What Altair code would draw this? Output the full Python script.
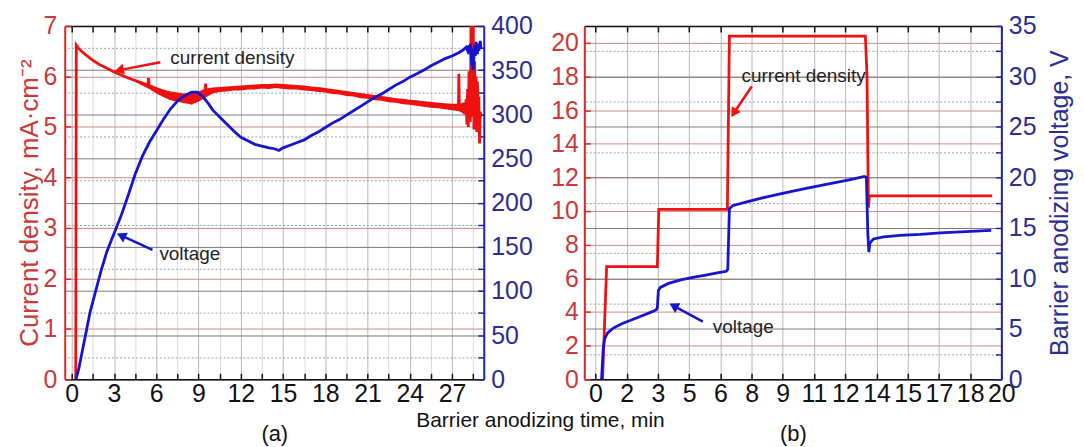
import altair as alt
import pandas as pd

FONT = "Liberation Sans"
RED_LINE = "#ee1111"
BLUE_LINE = "#1515d0"
RED_AX = "#d42a2a"
BLUE_AX = "#2020b0"
RED_TXT = "#c93a3a"
BLUE_TXT = "#2d2d8f"
BLACK = "#111111"
TICK_FS = 25

# ---------------- panel (a) data ----------------
a_j_time = [0.28, 0.32, 0.5, 0.8, 1.2, 1.6, 2.0, 2.5, 3.0, 3.5, 4.0, 4.5, 5.0, 5.4, 5.45, 5.5,
            6.0, 6.5, 7.0, 7.5, 8.0, 8.4, 8.5, 8.6, 9.0, 9.45, 9.5, 9.55, 10.0, 11.0, 12.0, 13.0,
            14.0, 15.0, 16.0, 17.0, 18.0, 19.0, 20.0, 21.0, 22.0, 23.0, 24.0, 25.0, 26.0, 27.0,
            27.45, 27.48, 27.52, 27.7, 27.8, 27.9, 28.0, 28.05, 28.1, 28.15, 28.2, 28.3, 28.35,
            28.42, 28.5, 28.55, 28.6, 28.65, 28.7, 28.75, 28.8, 28.85, 28.9, 28.95, 29.0, 29.05]
a_j_value = [0.0, 6.62, 6.55, 6.47, 6.38, 6.30, 6.23, 6.16, 6.09, 6.03, 5.97, 5.92, 5.86, 5.82, 5.97,
             5.80, 5.73, 5.67, 5.62, 5.59, 5.57, 5.56, 5.45, 5.57, 5.61, 5.66, 5.86, 5.67, 5.72,
             5.75, 5.77, 5.79, 5.80, 5.80, 5.78, 5.75, 5.72, 5.68, 5.64, 5.60, 5.56, 5.52, 5.49,
             5.45, 5.42, 5.39, 5.38, 6.05, 5.38, 5.35, 5.48, 5.25, 5.55, 5.05, 5.75, 5.00, 6.10,
             5.10, 7.40, 5.20, 7.40, 4.95, 6.30, 5.05, 6.00, 4.90, 5.90, 5.10, 5.60, 4.67, 5.30,
             5.20]

# noisy band of the current-density trace (lower / upper edge)
a_band_time = [4.5, 5.0, 5.5, 6.0, 6.5, 7.0, 7.5, 8.0, 8.5, 9.0, 9.5, 10.0, 10.5, 11.0, 11.5, 12.0,
               12.5, 13.0, 13.5, 14.0, 14.5, 15.0, 15.5, 16.0, 16.5, 17.0, 17.5, 18.0, 18.5, 19.0,
               19.5, 20.0, 20.5, 21.0, 21.5, 22.0, 22.5, 23.0, 23.5, 24.0, 24.5, 25.0, 25.5, 26.0,
               26.5, 27.0, 27.5, 27.9]
a_band_low = [5.90, 5.82, 5.75, 5.66, 5.59, 5.53, 5.50, 5.47, 5.45, 5.50, 5.58, 5.66, 5.69, 5.70,
              5.72, 5.72, 5.74, 5.74, 5.76, 5.75, 5.77, 5.75, 5.74, 5.74, 5.72, 5.71, 5.69, 5.68,
              5.65, 5.64, 5.61, 5.60, 5.57, 5.56, 5.53, 5.52, 5.49, 5.48, 5.45, 5.44, 5.42, 5.40,
              5.38, 5.37, 5.35, 5.33, 5.31, 5.25]
a_band_high = [5.94, 5.90, 5.85, 5.79, 5.74, 5.70, 5.68, 5.66, 5.67, 5.70, 5.76, 5.78, 5.79, 5.80,
               5.81, 5.82, 5.83, 5.84, 5.85, 5.85, 5.86, 5.85, 5.84, 5.83, 5.82, 5.80, 5.79, 5.77,
               5.75, 5.73, 5.71, 5.69, 5.67, 5.65, 5.63, 5.61, 5.59, 5.57, 5.56, 5.54, 5.53, 5.51,
               5.50, 5.48, 5.47, 5.46, 5.46, 5.48]

a_v_time = [0.3, 0.5, 0.7, 1.0, 1.3, 1.7, 2.1, 2.5, 3.0, 3.5, 4.0, 4.5, 5.0, 5.5, 6.0, 6.5, 7.0, 7.5,
            8.0, 8.5, 8.9, 9.3, 9.7, 10.0, 10.5, 11.0, 11.5, 12.0, 12.5, 13.0, 13.5, 14.0, 14.4, 14.7,
            15.0, 15.5, 16.0, 16.5, 17.0, 17.5, 18.0, 18.5, 19.0, 19.5, 20.0, 20.5, 21.0, 21.5, 22.0,
            22.5, 23.0, 23.5, 24.0, 24.5, 25.0, 25.5, 26.0, 26.5, 27.0, 27.5, 27.8, 28.0, 28.1, 28.2,
            28.25, 28.3, 28.4, 28.45, 28.5, 28.6, 28.65, 28.7, 28.8, 28.85, 28.9, 29.0, 29.05]
a_v_value = [0, 12, 28, 52, 76, 100, 124, 145, 165, 185, 208, 232, 252, 268, 281, 294, 306, 315,
             321, 325, 325, 320, 312, 305, 297, 289, 281, 274, 270, 266, 264, 262, 261, 259,
             262, 265, 268, 271, 276, 280, 285, 290, 294, 299, 304, 309, 314, 319, 323,
             328, 333, 337, 342, 346, 350, 355, 359, 363, 366, 370, 373, 376, 372, 378,
             368, 380, 355, 374, 350, 378, 366, 382, 368, 380, 372, 383, 374]

# ---------------- panel (b) data ----------------
b_j_time = [0.3, 0.35, 0.55, 3.05, 3.12, 6.5, 6.6, 13.3, 13.38, 13.45, 13.5, 19.55]
b_j_value = [0.0, 0.0, 6.7, 6.7, 10.1, 10.1, 20.4, 20.4, 18.0, 10.2, 10.9, 10.9]

b_v_time = [0.3, 0.38, 0.45, 0.6, 0.9, 1.3, 1.8, 2.3, 2.8, 3.0, 3.05, 3.1, 3.2, 3.6, 4.2, 4.8, 5.5,
            6.0, 6.45, 6.52, 6.6, 6.75, 7.5, 8.5, 9.5, 10.5, 11.5, 12.5, 13.25, 13.35, 13.42, 13.47,
            13.52, 13.7, 14.2, 15.0, 16.0, 17.0, 18.0, 19.0, 19.5]
b_v_value = [0.0, 3.0, 4.0, 4.6, 5.1, 5.5, 5.9, 6.3, 6.7, 6.9, 7.1, 8.8, 9.1, 9.5, 9.85, 10.1, 10.35,
             10.55, 10.7, 10.9, 16.9, 17.2, 17.6, 18.1, 18.55, 18.95, 19.35, 19.75, 20.1, 20.0, 14.5,
             12.6, 13.5, 13.9, 14.1, 14.25, 14.35, 14.5, 14.6, 14.7, 14.75]

# ---------------- ticks / labels ----------------
a_x_labels = ["0", "3", "6", "9", "12", "15", "18", "21", "24", "27"]
a_x_minor = [1.5, 4.5, 7.5, 10.5, 13.5, 16.5, 19.5, 22.5, 25.5, 28.5]
a_left_labels = ["0", "1", "2", "3", "4", "5", "6", "7"]
a_right_labels = ["0", "50", "100", "150", "200", "250", "300", "350", "400"]
a_right_minor = [25, 75, 125, 175, 225, 275, 325, 375]

b_x_labels = ["0", "2", "3", "5", "6", "8", "9", "11", "12", "14", "15", "17", "18", "20"]
b_x_positions = [20.0 * i / 13.0 for i in range(len(b_x_labels))]
b_left_labels = ["0", "2", "4", "6", "8", "10", "12", "14", "16", "18", "20"]
b_right_labels = ["0", "5", "10", "15", "20", "25", "30", "35"]
b_right_minor = [2.5, 7.5, 12.5, 17.5, 22.5, 27.5, 32.5]

# ---------------- annotations ----------------
a_note_j = pd.DataFrame({"x": [7.0], "y": [6.37], "text": ["current density"]})
a_arrow_j = pd.DataFrame({"x0": [6.29], "y0": [6.28], "x1": [3.47], "y1": [6.13]})
a_note_v = pd.DataFrame({"x": [6.22], "y": [142.0], "text": ["voltage"]})
a_arrow_v = pd.DataFrame({"x0": [5.73], "y0": [146.5], "x1": [3.61], "y1": [162.0]})

b_note_j = pd.DataFrame({"x": [7.2], "y": [18.05], "text": ["current density"]})
b_arrow_j = pd.DataFrame({"x0": [7.70], "y0": [17.4], "x1": [6.86], "y1": [15.9]})
b_note_v = pd.DataFrame({"x": [5.78], "y": [5.13], "text": ["voltage"]})
b_arrow_v = pd.DataFrame({"x0": [5.29], "y0": [5.72], "x1": [3.92], "y1": [7.2]})

INWARD = {"expr": "-6"}


def label_expr(positions, labels):
    expr = "''"
    for p, l in zip(positions, labels):
        expr = f"(abs(datum.value - {p:.6f}) < 0.0001) ? '{l}' : ({expr})"
    return expr


def major_test(positions):
    return " || ".join(f"abs(datum.value - {p:.6f}) < 0.0001" for p in positions)


def x_axis_bottom(major, labels, minor, title):
    return alt.Axis(
        orient="bottom", values=sorted(list(major) + list(minor)),
        labelExpr=label_expr(major, labels), labelFlush=False, labelOverlap=False,
        labelFont=FONT, labelFontSize=TICK_FS, labelColor=BLACK, labelPadding=8,
        title=title, titleFont=FONT, titleFontSize=22, titleFontWeight="normal",
        titleColor=BLACK, titlePadding=18,
        domainColor=BLACK, domainWidth=1.5, tickColor=BLACK, tickWidth=1.5, tickSize=INWARD,
        grid=True, gridWidth=1,
        gridColor={"condition": {"test": major_test(major), "value": "#b8b8b8"}, "value": "#dcdcdc"},
    )


def x_axis_top(values):
    return alt.Axis(
        orient="top", values=list(values), labels=False, title=None, grid=False,
        domainColor=BLACK, domainWidth=1.5, tickColor=BLACK, tickWidth=1.5, tickSize=INWARD,
    )


def y_axis_left(labels, title, pad):
    vals = [float(v) for v in labels]
    ax = dict(
        orient="left", values=vals, labelFlush=False, labelOverlap=False,
        labelFont=FONT, labelFontSize=TICK_FS, labelColor=RED_TXT, labelPadding=pad,
        domainColor=RED_AX, domainWidth=2, tickColor=RED_AX, tickWidth=1.5, tickSize=INWARD,
        grid=True, gridColor="#cf8a8a", gridWidth=1,
    )
    if title:
        ax.update(title=title, titleFont=FONT, titleFontSize=26, titleFontWeight="normal",
                  titleColor=RED_TXT, titlePadding=0)
    else:
        ax.update(title=None)
    return alt.Axis(**ax)


def y_axis_right(labels, minor, title, pad):
    major = [float(v) for v in labels]
    ax = dict(
        orient="right", values=sorted(major + list(minor)),
        labelExpr=label_expr(major, labels), labelFlush=False, labelOverlap=False,
        labelFont=FONT, labelFontSize=TICK_FS, labelColor=BLUE_TXT, labelPadding=pad,
        domainColor=BLUE_AX, domainWidth=2, tickColor=BLUE_AX, tickWidth=1.5, tickSize=INWARD,
        grid=True, gridWidth=1,
        gridColor={"condition": {"test": major_test(major), "value": "#7a7a7a"}, "value": "#a0a0a0"},
        gridDash={"condition": {"test": major_test(major), "value": []}, "value": [2, 2]},
    )
    if title:
        ax.update(title=title, titleFont=FONT, titleFontSize=25, titleFontWeight="normal",
                  titleColor=BLUE_TXT, titlePadding=12, titleAngle=270, titleBaseline="top")
    else:
        ax.update(title=None)
    return alt.Axis(**ax)


def side(df_line, line_color, arrow_df, note_df, xs, xa, ys, ya, head_angle, extra=None, band=None):
    def X(f):
        return alt.X(f, type="quantitative", scale=xs, axis=xa)

    def Y(f):
        return alt.Y(f, type="quantitative", scale=ys, axis=ya)

    layers = []
    if band is not None:
        layers.append(alt.Chart(band).mark_area(color=line_color, opacity=1, clip=True).encode(
            x=X("t"), y=Y("lo"), y2="hi:Q"))
    layers.append(alt.Chart(df_line).mark_line(color=line_color, strokeWidth=2.8, clip=True).encode(
        x=X("t"), y=Y("v")))
    layers.append(alt.Chart(arrow_df).mark_rule(color=line_color, strokeWidth=2.5).encode(
        x=X("x0"), y=Y("y0"), x2="x1:Q", y2="y1:Q"))
    layers.append(alt.Chart(arrow_df).mark_point(shape="triangle", filled=True, size=120, opacity=1,
                                                 color=line_color, angle=head_angle).encode(
        x=X("x1"), y=Y("y1")))
    layers.append(alt.Chart(note_df).mark_text(align="left", baseline="middle", font=FONT,
                                               fontSize=19, color="#222222").encode(
        x=X("x"), y=Y("y"), text="text:N"))
    if extra is not None:
        layers.append(extra)
    return alt.layer(*layers)


H = 355

# ---------- panel (a) ----------
xs_a = alt.Scale(domain=[-0.5, 29.25], nice=False, zero=False)
a_x_major = [float(v) for v in a_x_labels]
xb_a = x_axis_bottom(a_x_major, a_x_labels, a_x_minor, "(a)")
xt_a = x_axis_top(sorted(a_x_major + a_x_minor))
ysl_a = alt.Scale(domain=[0, 7], nice=False, zero=False)
ysr_a = alt.Scale(domain=[0, 400], nice=False, zero=False)

center_title = alt.Chart(pd.DataFrame({"label": ["Barrier anodizing time, min"]})).mark_text(
    font=FONT, fontSize=21, color=BLACK, align="center", baseline="middle").encode(
    x=alt.value(478), y=alt.value(397), text="label:N")

band_a = pd.DataFrame({"t": a_band_time, "lo": a_band_low, "hi": a_band_high})

left_a = side(pd.DataFrame({"t": a_j_time, "v": a_j_value}), RED_LINE, a_arrow_j, a_note_j,
              xs_a, xb_a, ysl_a, y_axis_left(a_left_labels, "Current density, mA·cm⁻²", 14),
              258, extra=center_title, band=band_a)
right_a = side(pd.DataFrame({"t": a_v_time, "v": a_v_value}), BLUE_LINE, a_arrow_v, a_note_v,
               xs_a, xt_a, ysr_a, y_axis_right(a_right_labels, a_right_minor, None, 13), 296)
panel_a = alt.layer(left_a, right_a).resolve_scale(y="independent").resolve_axis(
    x="independent", y="independent").properties(width=421, height=H)

# ---------- panel (b) ----------
xs_b = alt.Scale(domain=[-0.55, 20], nice=False, zero=False)
xb_b = x_axis_bottom(b_x_positions, b_x_labels, [], "(b)")
xt_b = x_axis_top(b_x_positions)
ysl_b = alt.Scale(domain=[0, 21], nice=False, zero=False)
ysr_b = alt.Scale(domain=[0, 35], nice=False, zero=False)

left_b = side(pd.DataFrame({"t": b_j_time, "v": b_j_value}), RED_LINE, b_arrow_j, b_note_j,
              xs_b, xb_b, ysl_b, y_axis_left(b_left_labels, None, 12), 213)
right_b = side(pd.DataFrame({"t": b_v_time, "v": b_v_value}), BLUE_LINE, b_arrow_v, b_note_v,
               xs_b, xt_b, ysr_b,
               y_axis_right(b_right_labels, b_right_minor, "Barrier anodizing voltage, V", 13), 299)
panel_b = alt.layer(left_b, right_b).resolve_scale(y="independent").resolve_axis(
    x="independent", y="independent").properties(width=419, height=H)

chart = alt.hconcat(panel_a, panel_b, spacing=101, bounds="flush").properties(
    padding={"left": 8, "top": 4, "right": 2, "bottom": 0}
).configure_view(stroke=None).configure(font=FONT)

chart.save("out.html", embed_options={"renderer": "svg", "actions": False})
